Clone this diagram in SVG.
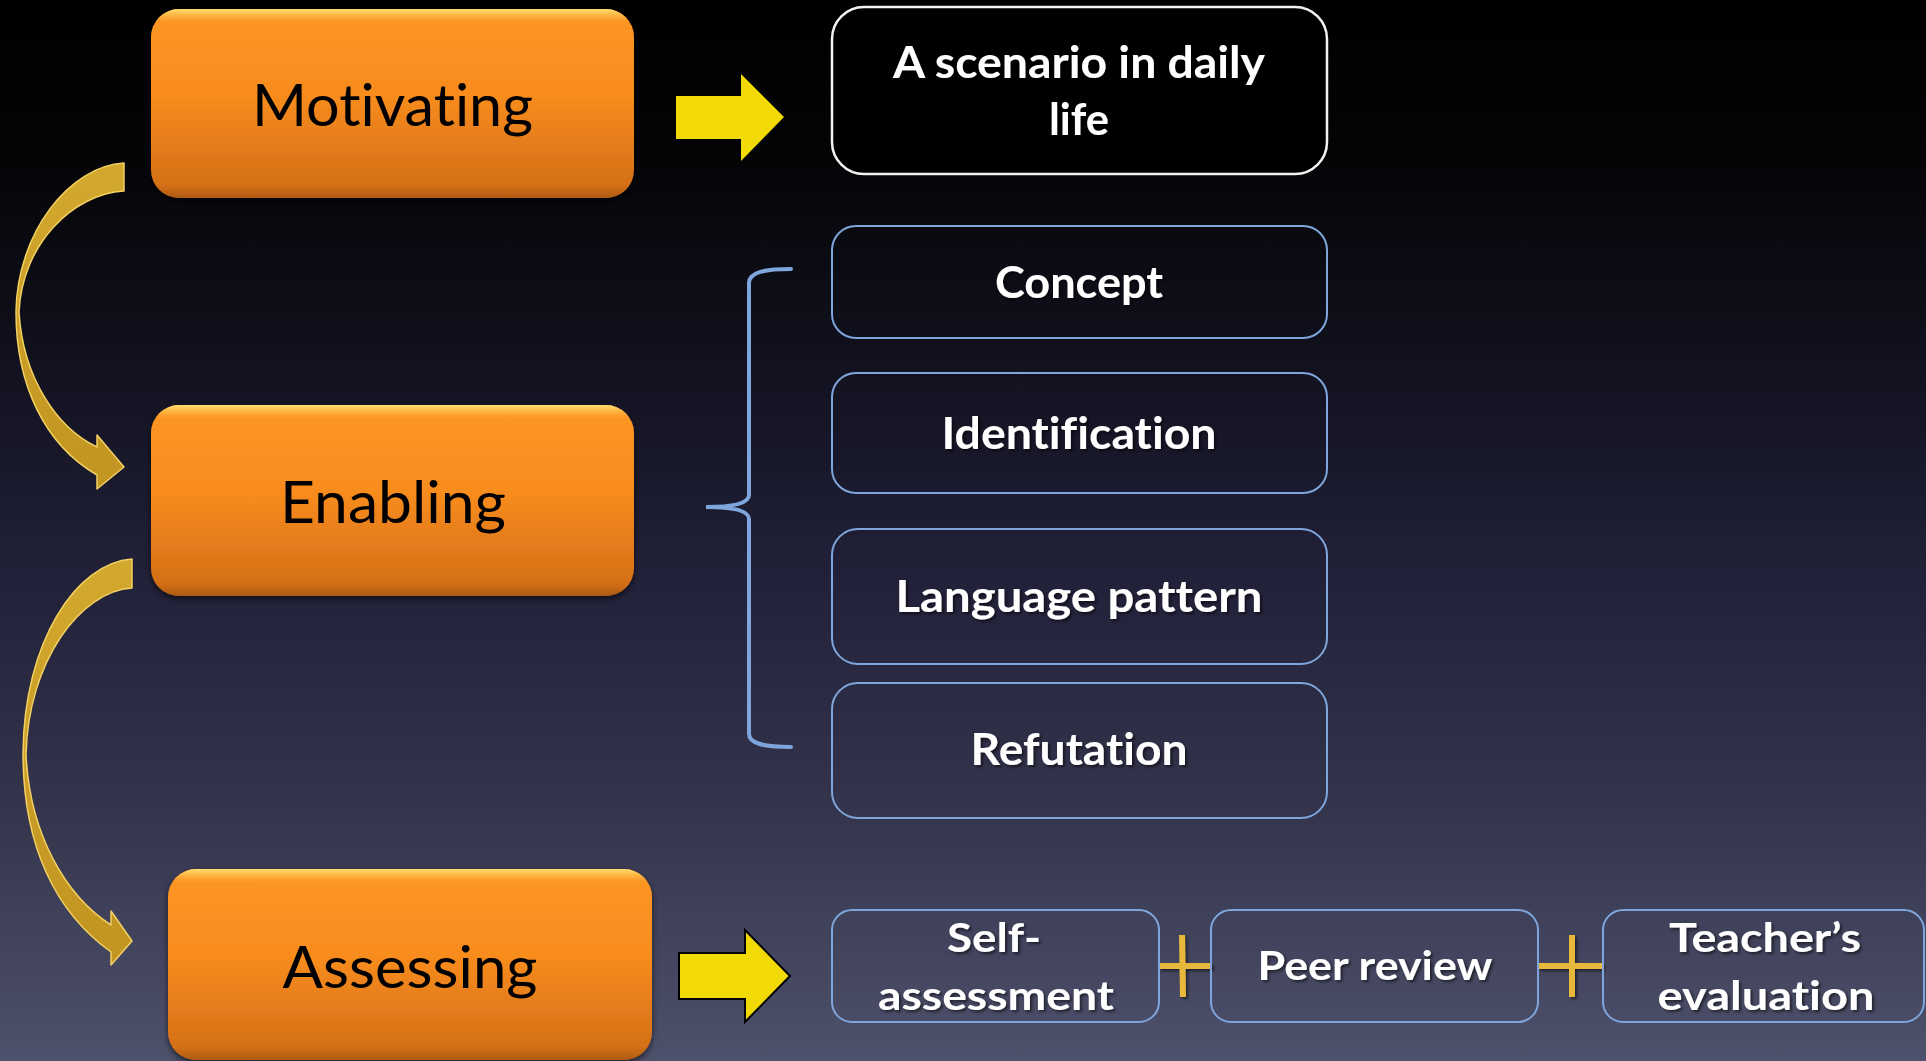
<svg xmlns="http://www.w3.org/2000/svg" width="1926" height="1061" viewBox="0 0 1926 1061">
  <defs>
    <linearGradient id="bg" x1="0" y1="0" x2="0" y2="1">
      <stop offset="0" stop-color="#000000"/>
      <stop offset="0.14" stop-color="#040406"/>
      <stop offset="0.38" stop-color="#141424"/>
      <stop offset="0.56" stop-color="#23223b"/>
      <stop offset="0.75" stop-color="#33334b"/>
      <stop offset="1" stop-color="#4e516b"/>
    </linearGradient>
    <linearGradient id="orange" x1="0" y1="0" x2="0" y2="1">
      <stop offset="0" stop-color="#fd9623"/>
      <stop offset="0.45" stop-color="#f88c1f"/>
      <stop offset="1" stop-color="#cf6c16"/>
    </linearGradient>
    <linearGradient id="rim" x1="0" y1="0" x2="0" y2="1">
      <stop offset="0" stop-color="#ffe072" stop-opacity="1"/>
      <stop offset="0.03" stop-color="#ffd060" stop-opacity="0.6"/>
      <stop offset="0.07" stop-color="#ffc050" stop-opacity="0"/>
      <stop offset="0.93" stop-color="#a05010" stop-opacity="0"/>
      <stop offset="1" stop-color="#8a4a10" stop-opacity="0.5"/>
    </linearGradient>
    <linearGradient id="gold" x1="0" y1="0" x2="0" y2="1">
      <stop offset="0" stop-color="#d2a82e"/>
      <stop offset="1" stop-color="#c29421"/>
    </linearGradient>
    <filter id="boxShadow" x="-10%" y="-10%" width="120%" height="130%">
      <feDropShadow dx="0" dy="3" stdDeviation="3" flood-color="#000" flood-opacity="0.6"/>
    </filter>
    <filter id="txtShadow" x="-5%" y="-20%" width="110%" height="140%">
      <feDropShadow dx="2" dy="2" stdDeviation="1.5" flood-color="#000" flood-opacity="0.55"/>
    </filter>
  </defs>
  <style>
    text { font-variant-ligatures: none; }
    .ob { fill: url(#orange); filter: url(#boxShadow); }
    .rim { fill: url(#rim); }
    .ot { font-family: Lato, "Open Sans", sans-serif; font-size: 59px; fill: #000; text-anchor: middle; }
    .wb { fill: none; stroke: #7ea6dc; stroke-width: 2; }
    .wt { font-family: Lato, "Open Sans", sans-serif; font-weight: bold; font-size: 44px; fill: #fff; text-anchor: middle; filter: url(#txtShadow); }
    .st { font-family: Lato, "Open Sans", sans-serif; font-weight: bold; font-size: 40px; fill: #fff; text-anchor: middle; filter: url(#txtShadow); }
    .yarrow { fill: #f2da06; }
    .garrow { fill: url(#gold); stroke: #f2d062; stroke-width: 1.5; stroke-linejoin: round; }
    .brace { fill: none; stroke: #7ea6dc; stroke-width: 4; stroke-linecap: round; }
    .plus { fill: #e8b83e; }
  </style>

  <rect x="0" y="0" width="1926" height="1061" fill="url(#bg)"/>

  <g id="connectors">
    <polygon class="yarrow" points="676,96 741,96 741,74 784,117 741,161 741,139 676,139"/>
    <polygon class="yarrow" points="679,953 745,953 745,930 790,976 745,1022 745,999 679,999" stroke="#000" stroke-width="2" stroke-linejoin="miter"/>
    <path class="garrow" d="M124,163 C 70,166 17,232 16,312 C 16,385 45,445 97,475 L 97,489 L 124,467 L 97,435 L 97,447 C 57,428 23,378 19,312 C 22,245 72,194 124,191 Z"/>
    <path class="garrow" d="M132,559 C 76,563 24,642 23,753 C 23,845 55,912 111,952 L 111,965 L 132,941 L 111,911 L 111,925 C 66,896 30,835 26,755 C 28,662 80,591 132,588 Z"/>
    <path class="brace" d="M791,269 C 765,269 749,272 749,283 L 749,495 C 749,503 735,507 706,507 C 735,507 749,511 749,519 L 749,734 C 749,744 765,747 791,747"/>
    <g filter="url(#txtShadow)">
      <rect class="plus" x="1159" y="963" width="53" height="6"/>
      <polygon class="plus" points="1179,935 1185,935 1186,997 1180,997"/>
      <rect class="plus" x="1538" y="963" width="65" height="6"/>
      <rect class="plus" x="1569" y="935" width="6" height="62"/>
    </g>
  </g>

  <g id="motivating">
    <rect class="ob" x="151" y="9" width="483" height="189" rx="28"/>
    <rect class="rim" x="151" y="9" width="483" height="189" rx="28"/>
    <text class="ot" x="392.5" y="126" textLength="281" lengthAdjust="spacingAndGlyphs">Motivating</text>
  </g>
  <g id="enabling">
    <rect class="ob" x="151" y="405" width="483" height="191" rx="28"/>
    <rect class="rim" x="151" y="405" width="483" height="191" rx="28"/>
    <text class="ot" x="393" y="523" textLength="226" lengthAdjust="spacingAndGlyphs">Enabling</text>
  </g>
  <g id="assessing">
    <rect class="ob" x="168" y="869" width="484" height="191" rx="28"/>
    <rect class="rim" x="168" y="869" width="484" height="191" rx="28"/>
    <text class="ot" x="410" y="988" textLength="255" lengthAdjust="spacingAndGlyphs">Assessing</text>
  </g>

  <g id="scenario">
    <rect x="832" y="7" width="495" height="167" rx="32" fill="#000" stroke="#f2f2f2" stroke-width="2.5"/>
    <text class="wt" x="1079" y="78" textLength="372" lengthAdjust="spacingAndGlyphs">A scenario in daily</text>
    <text class="wt" x="1079" y="135" textLength="60" lengthAdjust="spacingAndGlyphs">life</text>
  </g>
  <g id="concept">
    <rect class="wb" x="832" y="226" width="495" height="112" rx="24"/>
    <text class="wt" x="1079" y="298" textLength="168" lengthAdjust="spacingAndGlyphs">Concept</text>
  </g>
  <g id="identification">
    <rect class="wb" x="832" y="373" width="495" height="120" rx="24"/>
    <text class="wt" x="1079" y="449" textLength="275" lengthAdjust="spacingAndGlyphs">Identification</text>
  </g>
  <g id="language-pattern">
    <rect class="wb" x="832" y="529" width="495" height="135" rx="26"/>
    <text class="wt" x="1079" y="612" textLength="367" lengthAdjust="spacingAndGlyphs">Language pattern</text>
  </g>
  <g id="refutation">
    <rect class="wb" x="832" y="683" width="495" height="135" rx="26"/>
    <text class="wt" x="1079" y="765" textLength="217" lengthAdjust="spacingAndGlyphs">Refutation</text>
  </g>

  <g id="self-assessment">
    <rect class="wb" x="832" y="910" width="327" height="112" rx="20"/>
    <text class="st" x="994" y="952" textLength="94" lengthAdjust="spacingAndGlyphs">Self-</text>
    <text class="st" x="996" y="1010" textLength="236" lengthAdjust="spacingAndGlyphs">assessment</text>
  </g>
  <g id="peer-review">
    <rect class="wb" x="1211" y="910" width="327" height="112" rx="20"/>
    <text class="st" x="1375" y="980" textLength="235" lengthAdjust="spacingAndGlyphs">Peer review</text>
  </g>
  <g id="teachers-evaluation">
    <rect class="wb" x="1603" y="910" width="321" height="112" rx="20"/>
    <text class="st" x="1765" y="952" textLength="192" lengthAdjust="spacingAndGlyphs">Teacher’s</text>
    <text class="st" x="1766" y="1010" textLength="217" lengthAdjust="spacingAndGlyphs">evaluation</text>
  </g>
</svg>
